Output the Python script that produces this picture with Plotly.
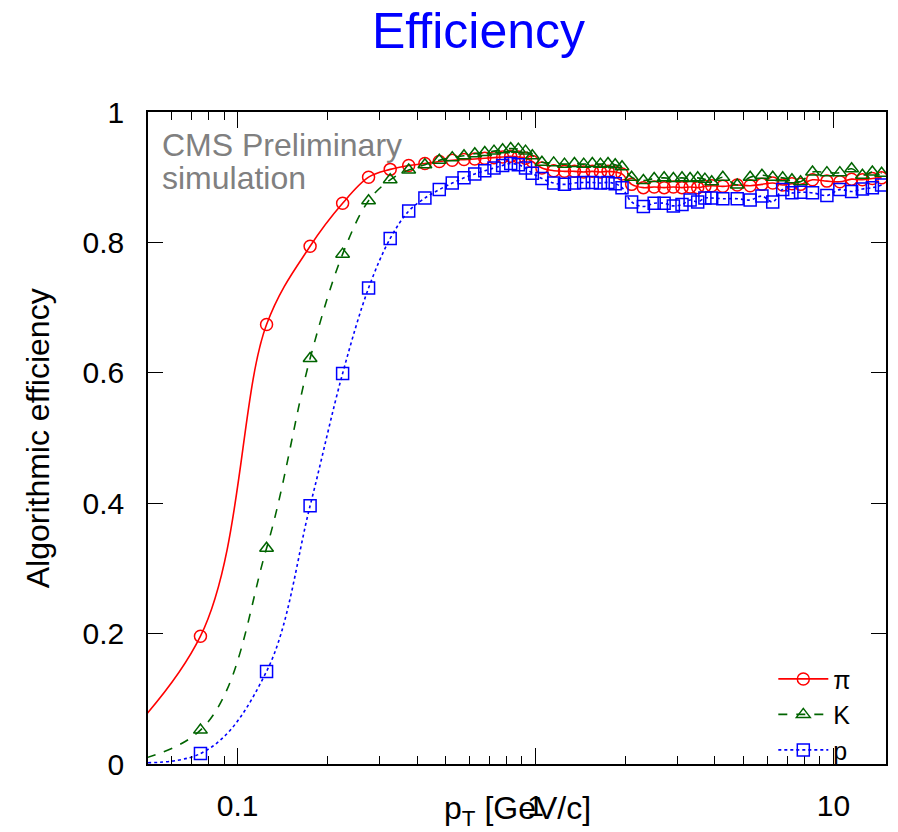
import plotly.graph_objects as go
import math

pt = [0.025, 0.075, 0.125, 0.175, 0.225, 0.275, 0.325, 0.375, 0.425, 0.475,
      0.525, 0.575, 0.625, 0.675, 0.725, 0.775, 0.825, 0.875, 0.925, 0.975,
      1.05, 1.15, 1.25, 1.35, 1.45, 1.55, 1.65, 1.75, 1.85, 1.95,
      2.1, 2.3, 2.5, 2.7, 2.9, 3.1, 3.3, 3.5, 3.7, 3.9,
      4.25, 4.75, 5.25, 5.75, 6.25, 6.75, 7.25, 7.75,
      8.5, 9.5, 10.5, 11.5, 12.5, 13.5, 14.5]

eff_pi = [-0.06, 0.196, 0.674, 0.794, 0.860, 0.900, 0.912, 0.918, 0.921, 0.924,
          0.926, 0.927, 0.928, 0.929, 0.930, 0.931, 0.932, 0.931, 0.929, 0.924,
          0.914, 0.910, 0.909, 0.909, 0.908, 0.909, 0.908, 0.909, 0.908, 0.905,
          0.889, 0.884, 0.885, 0.884, 0.885, 0.884, 0.885, 0.884, 0.886, 0.887,
          0.886, 0.888, 0.887, 0.889, 0.891, 0.888, 0.890, 0.889,
          0.896, 0.894, 0.893, 0.897, 0.896, 0.898, 0.899]

eff_K = [-0.015, 0.052, 0.331, 0.622, 0.782, 0.864, 0.896, 0.911, 0.919, 0.926,
         0.930, 0.933, 0.936, 0.938, 0.940, 0.942, 0.944, 0.943, 0.940, 0.933,
         0.923, 0.922, 0.920, 0.921, 0.920, 0.921, 0.920, 0.921, 0.919, 0.916,
         0.900, 0.895, 0.898, 0.899, 0.898, 0.899, 0.898, 0.899, 0.897, 0.893,
         0.900, 0.888, 0.900, 0.903, 0.900, 0.899, 0.896, 0.893,
         0.908, 0.907, 0.907, 0.913, 0.903, 0.908, 0.906]

eff_p = [0.013, 0.016, 0.142, 0.396, 0.599, 0.730, 0.806, 0.848, 0.868, 0.881,
         0.891, 0.899, 0.905, 0.910, 0.914, 0.918, 0.921, 0.919, 0.914, 0.906,
         0.898, 0.891, 0.889, 0.891, 0.892, 0.892, 0.891, 0.892, 0.890, 0.884,
         0.862, 0.855, 0.860, 0.860, 0.856, 0.858, 0.865, 0.862, 0.868, 0.868,
         0.867, 0.867, 0.865, 0.871, 0.862, 0.881, 0.876, 0.877,
         0.876, 0.872, 0.881, 0.878, 0.882, 0.884, 0.888]

x_ticks = [0.1, 1, 10]
x_ticktext = ["0.1", "1", "10"]
x_minor = [0.06, 0.07, 0.08, 0.09, 0.2, 0.3, 0.4, 0.5, 0.6, 0.7, 0.8, 0.9,
           2, 3, 4, 5, 6, 7, 8, 9]
y_ticks = [0, 0.2, 0.4, 0.6, 0.8, 1]
y_ticktext = ["0", "0.2", "0.4", "0.6", "0.8", "1"]

FONT = "Liberation Sans, Arial, sans-serif"

series = [
    ("π", eff_pi, "#ff0000", "solid", "circle-open"),
    ("K", eff_K, "#006400", "dash", "triangle-up-open"),
    ("p", eff_p, "#0000ff", "dot", "square-open"),
]

fig = go.Figure()
for name, vals, col, dash, sym in series:
    fig.add_trace(go.Scatter(
        x=pt, y=vals, name=name, mode="lines+markers",
        line=dict(color=col, width=1.6, dash=dash, shape="spline", smoothing=1.0),
        marker=dict(symbol=sym, size=12, color=col, line=dict(width=1.5, color=col)),
        cliponaxis=True,
    ))

fig.update_layout(
    width=898, height=832,
    margin=dict(l=148, r=10, t=112, b=67),
    paper_bgcolor="white", plot_bgcolor="white",
    font=dict(family=FONT, size=30, color="black"),
    title=dict(text="Efficiency", x=478.5/898, xanchor="center",
               y=1-30/832, yanchor="middle",
               font=dict(family=FONT, size=50, color="#0000ff")),
    showlegend=True,
    legend=dict(x=(775-148)/740, xanchor="left", y=(765-657)/653, yanchor="top",
                font=dict(family=FONT, size=25, color="black"),
                bgcolor="rgba(0,0,0,0)", borderwidth=0, itemwidth=50),
    xaxis=dict(type="log", range=[math.log10(0.05), math.log10(15)],
               showline=True, linecolor="black", linewidth=1.5, mirror="allticks",
               ticks="inside", ticklen=16, tickwidth=1.2, tickcolor="black",
               tickmode="array", tickvals=x_ticks, ticktext=x_ticktext,
               tickfont=dict(size=30), ticklabelstandoff=14,
               minor=dict(tickmode="array", tickvals=x_minor, ticks="inside",
                          ticklen=8, tickwidth=1.2, tickcolor="black", showgrid=False),
               showgrid=False, zeroline=False),
    yaxis=dict(range=[0, 1], showline=True, linecolor="black", linewidth=1.5,
               mirror="allticks", ticks="inside", ticklen=15, tickwidth=1.2,
               tickcolor="black", tickmode="array", tickvals=y_ticks,
               ticktext=y_ticktext,
               tickfont=dict(size=30), ticklabelstandoff=16,
               showgrid=False, zeroline=False),
    annotations=[
        dict(text="CMS Preliminary", xref="paper", yref="paper",
             x=(160-148)/740, y=(765-145)/653, xanchor="left", yanchor="middle",
             align="left", showarrow=False,
             font=dict(family=FONT, size=32, color="#808080")),
        dict(text="simulation", xref="paper", yref="paper",
             x=(160-148)/740, y=(765-178)/653, xanchor="left", yanchor="middle",
             align="left", showarrow=False,
             font=dict(family=FONT, size=32, color="#808080")),
        dict(text="p<sub>T</sub> [GeV/c]", xref="paper", yref="paper",
             x=0.5, y=-(812-765)/653, xanchor="center", yanchor="middle",
             showarrow=False, font=dict(family=FONT, size=32, color="black")),
        dict(text="Algorithmic efficiency", xref="paper", yref="paper",
             x=(38-148)/740, y=0.5, xanchor="center", yanchor="middle",
             textangle=-90, showarrow=False,
             font=dict(family=FONT, size=32, color="black")),
    ],
)

fig.write_html("out.html")
